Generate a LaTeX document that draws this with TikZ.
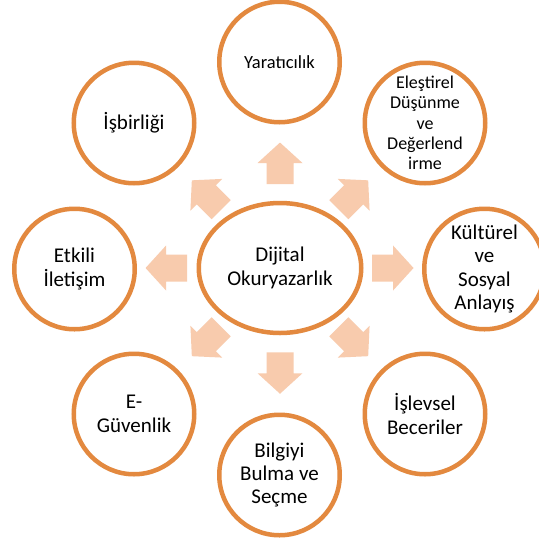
\documentclass[tikz,border=0pt]{standalone}
\usepackage{fontspec}
\setmainfont{Carlito}
\usetikzlibrary{shapes.geometric}
\definecolor{ringc}{RGB}{227,137,63}
\definecolor{arrc}{RGB}{248,203,173}
\tikzset{
  ring/.style={circle, draw=ringc, line width=4.5pt, minimum size=120.5pt, inner sep=0pt, fill=white},
  hub/.style={ellipse, draw=ringc, line width=4.5pt, minimum width=162.5pt, minimum height=130pt, inner sep=0pt, fill=white},
  lbl/.style={align=center, inner sep=0pt, font=\fontsize{21}{23.4}\selectfont},
  lblsmall/.style={align=center, inner sep=0pt, font=\fontsize{18}{20.4}\selectfont},
  lbltiny/.style={align=center, inner sep=0pt, font=\fontsize{18.5}{21}\selectfont},
  arrfill/.style={fill=arrc, draw=none}
}
\newcommand\blockarr[3]{%
  \begin{scope}[shift={(#1,#2)}, rotate=#3]
    \path[arrfill] (-20.75,-13.5) -- (0.25,-13.5) -- (0.25,-22.5) -- (20.75,0)
      -- (0.25,22.5) -- (0.25,13.5) -- (-20.75,13.5) -- cycle;
  \end{scope}}
\begin{document}
\begin{tikzpicture}[x=1pt,y=-1pt]
\useasboundingbox (0,0) rectangle (539,539);
\fill[white] (0,0) rectangle (539,539);

% block arrows
\blockarr{280}{163.3}{90}
\blockarr{280}{373}{-90}
\blockarr{392.8}{268}{0}
\blockarr{166.3}{268}{180}
\blockarr{353.5}{195}{45}
\blockarr{206.5}{195}{135}
\blockarr{353.5}{341.5}{-45}
\blockarr{206.5}{341.5}{-135}

% hub
\node[hub] (hub) at (280,268) {};
\node[lbl] (thub) at (hub.center) {Dijital\\Okuryazarlık};

% rings
\node[ring] (yar) at (279.5,62) {};
\node[lbltiny] (tyar) at (yar.center) {Yaratıcılık};
\node[ring] (isb) at (134,123) {};
\node[lbl] (tisb) at (isb.center) {İşbirliği};
\node[ring] (ele) at (425,123) {};
\node[lblsmall] (tele) at (ele.center) {Eleştirel\\Düşünme\\ve\\Değerlend\\irme};
\node[ring] (etk) at (74.5,269) {};
\node[lbl] (tetk) at (etk.center) {Etkili\\İletişim};
\node[ring] (kul) at (484.5,269) {};
\node[lbl] (tkul) at (kul.center) {Kültürel\\ve\\Sosyal\\Anlayış};
\node[ring] (egu) at (134,414) {};
\node[lbl] (tegu) at (egu.center) {E-\\Güvenlik};
\node[ring] (isl) at (425,414) {};
\node[lbl] (tisl) at (isl.center) {İşlevsel\\Beceriler};
\node[ring] (bil) at (279.5,475) {};
\node[lbl] (tbil) at (bil.center) {Bilgiyi\\Bulma ve\\Seçme};
\end{tikzpicture}
\end{document}
